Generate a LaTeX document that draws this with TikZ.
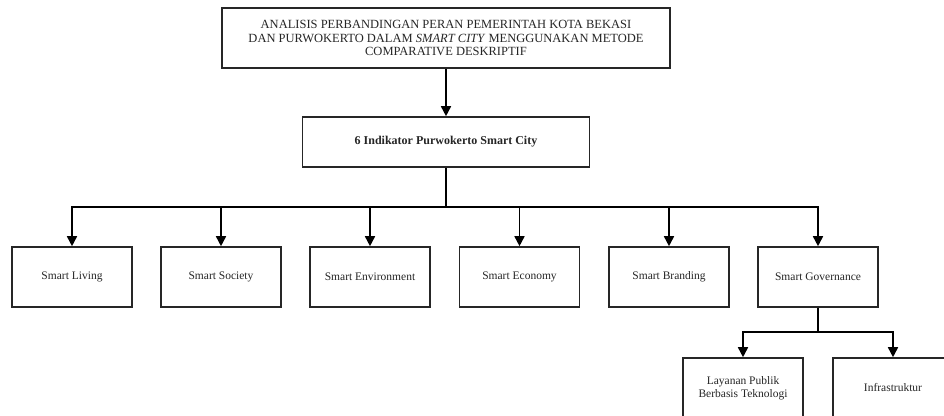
\documentclass[tikz,border=0pt]{standalone}
\usepackage{fontspec}
\setmainfont{Liberation Serif}
\usetikzlibrary{arrows.meta}
\begin{document}
\begin{tikzpicture}[x=1pt,y=-1pt,
  box/.style={draw=black!85, line width=1.6pt, fill=white, align=center, inner sep=2pt,
    font=\fontsize{11.5}{13.5}\selectfont, text=black!85},
  leaf/.style={box, minimum width=120pt, minimum height=60pt},
  arr/.style={line width=1.6pt, draw=black, -{Triangle[width=10pt,length=10pt]}},
  ln/.style={line width=1.6pt, draw=black}]
\useasboundingbox (0,0) rectangle (944,415);
\node[box, minimum width=448pt, minimum height=60pt, font=\fontsize{12.5}{13.8}\selectfont] (top) at (446,38)
  {ANALISIS PERBANDINGAN PERAN PEMERINTAH KOTA BEKASI\\
   DAN PURWOKERTO DALAM \textit{SMART CITY} MENGGUNAKAN METODE\\
   COMPARATIVE DESKRIPTIF};
\node[box, minimum width=287pt, minimum height=50pt, font=\fontsize{12}{14}\selectfont\bfseries] (ind) at (446,142)
  {6 Indikator Purwokerto Smart City};
\node[leaf] (living) at (72,277) {Smart Living};
\node[leaf] (society) at (221,277) {Smart Society};
\node[leaf] (env) at (370,277) {Smart Environment};
\node[leaf] (eco) at (519.5,277) {Smart Economy};
\node[leaf] (brand) at (669,277) {Smart Branding};
\node[leaf] (gov) at (818,277) {Smart Governance};
\node[leaf] (lay) at (743,388) {Layanan Publik\\Berbasis Teknologi};
\node[leaf] (infra) at (893,388) {Infrastruktur};
\coordinate (bus) at (446,207);
\coordinate (bus2) at (818,332);
\draw[arr] (top.south) -- (top.south |- ind.north);
\draw[ln] (ind.south) -- (bus);
\foreach \n in {living,society,env,eco,brand,gov}
  \draw[arr] (bus) -| (\n.north);
\draw[ln] (gov.south) -- (bus2);
\draw[arr] (bus2) -| (lay.north);
\draw[arr] (bus2) -| (infra.north);
\end{tikzpicture}
\end{document}
